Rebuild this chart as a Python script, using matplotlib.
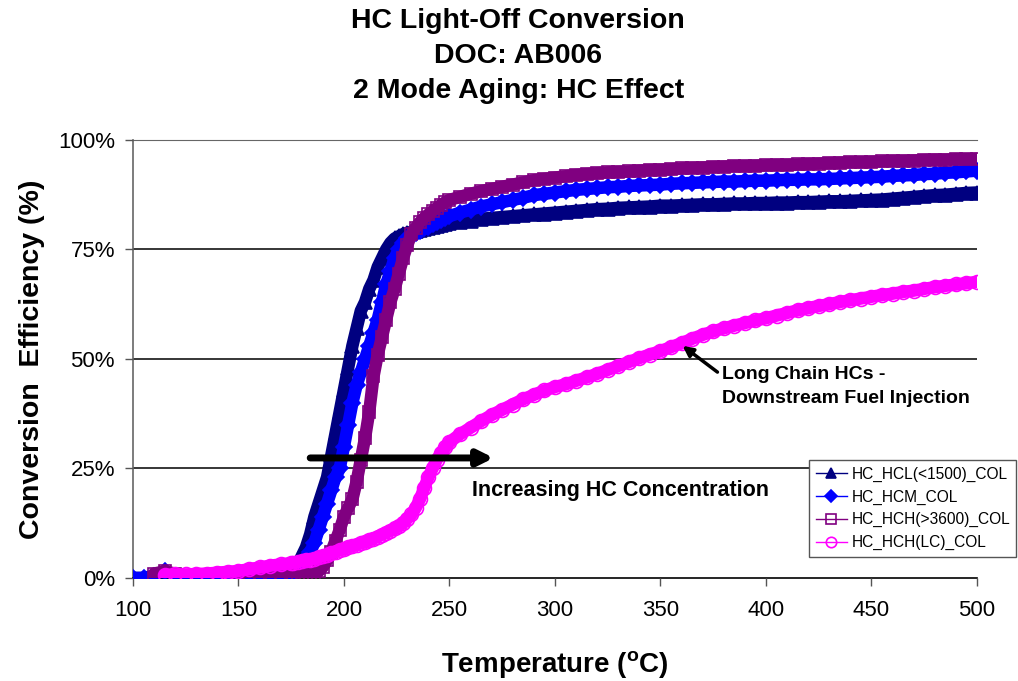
import numpy as np
import matplotlib
matplotlib.use('Agg')
import matplotlib.pyplot as plt
from matplotlib.ticker import PercentFormatter

plt.rcParams['font.family'] = ['Liberation Sans', 'DejaVu Sans']
plt.rcParams['mathtext.fontset'] = 'custom'
plt.rcParams['mathtext.rm'] = 'Liberation Sans'
plt.rcParams['mathtext.bf'] = 'Liberation Sans:bold'

# temperature grid (deg C): coarse at low end, fine through light-off, coarse on plateau
temp = list(range(100, 176, 5)) + list(range(176, 251, 2)) + list(range(255, 501, 5))

# conversion efficiency (%)
hcl_1500 = [0, 0, 0, 1, 0.5, 0, 0, 0.5, 0, 0, 0, 0.5, 0, 0, 0.5, 1,
            1.5, 3, 5, 7, 10, 14, 17, 20, 23, 28, 33, 38, 43, 48, 53, 57, 61, 63, 66, 68,
            71, 73, 75, 76.5, 77.5, 78, 78.5, 78.8, 79, 79.3, 79.5, 79.7, 80, 80.2, 80.4, 80.6,
            80.8, 81,
            81.3, 81.6, 82, 82.2, 82.4, 82.6, 82.8, 83, 83.2, 83.4, 83.6, 83.8, 84, 84.2, 84.3,
            84.5, 84.6, 84.7, 84.8, 85, 85, 85.1, 85.2, 85.3, 85.3, 85.4, 85.5, 85.5, 85.6, 85.6,
            85.7, 85.7, 85.8, 85.8, 85.9, 86, 86, 86.1, 86.2, 86.3, 86.4, 86.6, 86.8, 87, 87.2,
            87.4, 87.5, 87.7, 87.9, 88]
hcm = [0, 0, 0.5, 1.5, 0.5, 0, 0.5, 0, 0.5, 0, 0, 0.5, 0, 0, 0.5, 1,
       1, 2, 3, 4.5, 6, 8, 11, 14, 17, 20, 23, 25, 30, 35, 40, 44, 47, 50, 53, 56,
       59, 63, 67, 70, 73, 75, 76.5, 77.5, 78.2, 78.8, 79.3, 79.8, 80.2, 80.8, 81.3, 81.8,
       82.2, 82.6,
       83.4, 84.1, 84.8, 85.3, 85.8, 86.3, 86.8, 87.4, 87.7, 88, 88.3, 88.6, 88.8, 89, 89.2,
       89.3, 89.5, 89.6, 89.7, 89.8, 90, 90.1, 90.2, 90.3, 90.4, 90.5, 90.5, 90.6, 90.7, 90.7,
       90.8, 90.9, 90.9, 91, 91, 91.1, 91.2, 91.3, 91.4, 91.5, 91.6, 91.8, 91.9, 92, 92.2,
       92.3, 92.5, 92.6, 92.8, 93]
hch_3600 = [np.nan, np.nan, 1, 1.5, 1, 0.5, 0.5, 0.5, 0.5, 0.5, 0.5, 0.5, 0.5, 0.5, 0.5, 0.5,
            0.5, 0.5, 0.5, 0.5, 1, 1, 1.5, 2.5, 4, 6, 8.5, 11, 14, 16, 18, 22, 27, 32, 38, 46,
            51, 55, 59, 63, 66, 69.5, 73, 76, 78.5, 80, 81.2, 82.2, 83, 83.8, 84.5, 85.2,
            85.8, 86.3,
            87, 87.7, 88.3, 88.8, 89.3, 89.8, 90.3, 90.8, 91.1, 91.4, 91.7, 92, 92.2, 92.4, 92.6,
            92.7, 92.8, 93, 93.1, 93.2, 93.3, 93.5, 93.6, 93.7, 93.8, 93.9, 94, 94, 94.1, 94.2,
            94.3, 94.3, 94.4, 94.5, 94.6, 94.7, 94.8, 94.9, 94.9, 95, 95.1, 95.2, 95.2, 95.3, 95.4,
            95.5, 95.5, 95.6, 95.6, 95.7]
hch_lc = [np.nan, np.nan, np.nan, 0.7, 0.8, 0.8, 0.9, 1, 1.2, 1.4, 1.6, 2, 2.4, 2.8, 3.1, 3.4,
          3.5, 3.6, 3.8, 4, 4.2, 4.4, 4.7, 5, 5.3, 5.6, 6, 6.3, 6.6, 7, 7.3, 7.6, 7.9, 8.2,
          8.6, 9, 9.4, 9.9, 10.3, 10.8, 11.3, 11.8, 12.5, 13.5, 14.5, 16, 18, 20.5, 23, 25,
          27, 28.5, 29.8, 31,
          32.8, 34.3, 35.8, 37.2, 38.4, 39.6, 40.8, 41.8, 42.8, 43.6, 44.2, 45, 45.8, 46.6, 47.5,
          48.4, 49.3, 50.2, 51, 51.8, 52.7, 53.6, 54.6, 55.5, 56.3, 57, 57.6, 58.2, 58.8, 59.3,
          59.9, 60.5, 61.1, 61.6, 62.1, 62.5, 63, 63.4, 63.8, 64.2, 64.6, 64.9, 65.3, 65.6, 66,
          66.4, 66.7, 67, 67.3, 67.6]

series_names = ['HC_HCL(<1500)_COL', 'HC_HCM_COL', 'HC_HCH(>3600)_COL', 'HC_HCH(LC)_COL']
series_vals = [hcl_1500, hcm, hch_3600, hch_lc]
colors = ['#000080', '#0000FF', '#800080', '#FF00FF']
markers = ['^', 'D', 's', 'o']
msizes = [10, 8.5, 9, 10]
filled = [True, True, False, False]

fig = plt.figure(figsize=(10.18, 6.81), dpi=100)
ax = fig.add_axes([0.1306, 0.1513, 0.8291, 0.6432])

for name, vals, c, m, ms, fill in zip(series_names, series_vals, colors, markers, msizes, filled):
    y = np.array(vals) / 100
    # wide stroke underneath so the dense logger points read as a solid band
    ax.plot(temp, y, color=c, lw=9, solid_capstyle='round', solid_joinstyle='round')
    ax.plot(temp, y, color=c, lw=1, marker=m, ms=ms, mfc=c if fill else 'none',
            mec=c, mew=1.2, label=name)

ax.set_xlim(100, 500)
ax.set_ylim(0, 1)
ax.set_xticks(range(100, 501, 50))
ax.set_yticks([0, 0.25, 0.5, 0.75, 1.0])
ax.yaxis.set_major_formatter(PercentFormatter(1.0, decimals=0))
ax.tick_params(labelsize=16, direction='out', length=6, width=1, color='#555555', pad=7)
ax.tick_params(axis='x', pad=10)

for yy in [0.25, 0.5, 0.75]:
    ax.axhline(yy, color='black', lw=1.1, zorder=0)
ax.spines['right'].set_visible(False)
ax.spines['top'].set_color('#666666')
ax.spines['left'].set_color('#666666')
ax.spines['bottom'].set_color('black')
ax.spines['left'].set_linewidth(1.2)
ax.spines['bottom'].set_linewidth(1.2)
for s in ax.spines.values():
    s.set_zorder(0.5)

ax.set_xlabel(r'Temperature ($\mathbf{^{o}}$C)', fontsize=20, fontweight='bold', labelpad=20)
ax.set_ylabel('Conversion  Efficiency (%)', fontsize=20.5, fontweight='bold', labelpad=9)

fig.suptitle('HC Light-Off Conversion\nDOC: AB006\n2 Mode Aging: HC Effect',
             x=0.509, y=0.988, va='top', fontsize=20.5, fontweight='bold', linespacing=1.45)

# concentration arrow
ax.annotate('', xy=(271, 0.274), xytext=(184, 0.274),
            arrowprops=dict(arrowstyle='-|>,head_length=0.9,head_width=0.45', lw=5,
                            color='black', shrinkA=0, shrinkB=0))
ax.text(331, 0.20, 'Increasing HC Concentration', fontsize=15.5, fontweight='bold',
        ha='center', va='center')

# long chain label
ax.annotate('', xy=(360.5, 0.53), xytext=(377, 0.47),
            arrowprops=dict(arrowstyle='-|>,head_length=0.6,head_width=0.3', lw=2.5,
                            color='black', shrinkA=0, shrinkB=0))
ax.text(379, 0.438, 'Long Chain HCs -\nDownstream Fuel Injection', fontsize=14,
        fontweight='bold', ha='left', va='center', linespacing=1.55)

leg = ax.legend(loc='lower right', bbox_to_anchor=(1.056, 0.031), fontsize=11.2,
                frameon=True, fancybox=False, framealpha=1, edgecolor='#555555',
                handlelength=2.0, handletextpad=0.3, borderpad=0.4, labelspacing=0.5,
                markerscale=0.75)
leg.get_frame().set_linewidth(1)

fig.savefig('out.png', dpi=100)
